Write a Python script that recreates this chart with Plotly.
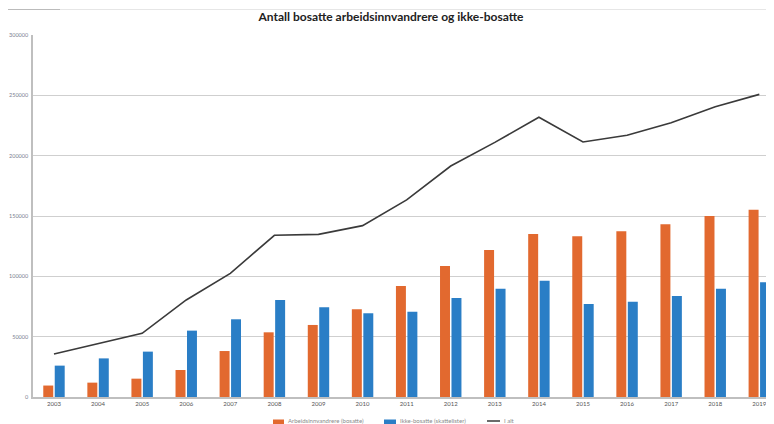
import plotly.graph_objects as go

years = ["2003", "2004", "2005", "2006", "2007", "2008", "2009", "2010", "2011",
         "2012", "2013", "2014", "2015", "2016", "2017", "2018", "2019"]
bosatte = [9500, 11900, 15200, 22400, 38100, 53600, 59700, 72700, 92000,
           108600, 121800, 135100, 133200, 137300, 143100, 150000, 155200]
ikke_bosatte = [26000, 32000, 37600, 55000, 64400, 80400, 74300, 69400, 70700,
                82000, 89800, 96400, 77100, 79000, 83700, 89800, 95000]
i_alt = [35600, 44500, 52800, 80400, 102500, 134000, 134800, 142000, 163300,
         191400, 211000, 231800, 211300, 216900, 227300, 240600, 250800]
series_names = ["Arbeidsinnvandrere (bosatte)", "Ikke-bosatte (skattelister)", "I alt"]
title_text = "Antall bosatte arbeidsinnvandrere og ikke-bosatte"
y_ticks = [0, 50000, 100000, 150000, 200000, 250000, 300000]

C_OR = "#E2692F"
C_BL = "#2A7EC6"
C_LN = "#3A3A3A"

fig = go.Figure()
fig.add_trace(go.Bar(x=years, y=bosatte, name=series_names[0],
                     marker=dict(color=C_OR, line=dict(width=0))))
fig.add_trace(go.Bar(x=years, y=ikke_bosatte, name=series_names[1],
                     marker=dict(color=C_BL, line=dict(width=0))))
fig.add_trace(go.Scatter(x=years, y=i_alt, name=series_names[2], mode="lines",
                         line=dict(color=C_LN, width=1.6)))

# page body has an 8px margin: work in page pixels, convert to figure pixels
OFF = 8
W, H = 774 - OFF, 424 - OFF
L, R, T, B = 33 - OFF, 0, 35 - OFF, 27
PW, PH = W - L - R, H - T - B


def px(x):  # page x -> paper
    return (x - OFF - L) / PW


def py(y):  # page y -> paper
    return (H - B - (y - OFF)) / PH


fig.update_layout(
    width=W, height=H,
    margin=dict(l=L, r=R, t=T, b=B, autoexpand=False),
    paper_bgcolor="white", plot_bgcolor="white",
    barmode="group", bargap=0.48, bargroupgap=0.13,
    font=dict(family="Lato, Liberation Sans, sans-serif", color="#444444"),
    title=dict(text="<b>" + title_text + "</b>", x=0.5, xanchor="center",
               y=1 - (17 - OFF) / H, yanchor="middle", font=dict(size=12, color="#222222")),
    xaxis=dict(type="category", range=[-0.476, 16.333], showgrid=False,
               showline=True, linecolor="#BFBFBF", linewidth=1.5, ticks="",
               automargin=False, tickfont=dict(size=6, color="#555555")),
    yaxis=dict(range=[0, 300000], tickvals=y_ticks, tickformat="d", showgrid=True,
               gridcolor="#CFCFCF", gridwidth=1.3, zeroline=False,
               showline=True, linecolor="#BFBFBF", linewidth=1.5, automargin=False,
               tickfont=dict(size=5.5, color="#7A8090"), ticks="", ticklabelstandoff=2),
    showlegend=False,
)

# top decorative rule
fig.add_shape(type="line", xref="paper", yref="paper", x0=px(OFF), x1=px(774),
              y0=py(9.5), y1=py(9.5), line=dict(color="#E6E6E6", width=1))
fig.add_shape(type="line", xref="paper", yref="paper", x0=px(OFF), x1=px(60),
              y0=py(9.5), y1=py(9.5), line=dict(color="#BBBBBB", width=1))

# custom legend at bottom
legend_items = [
    (series_names[0], "bar", C_OR, 273, 284),
    (series_names[1], "bar", C_BL, 384, 396),
    (series_names[2], "line", C_LN, 487, 500),
]
for name, kind, col, x0, x1 in legend_items:
    if kind == "bar":
        fig.add_shape(type="rect", xref="paper", yref="paper",
                      x0=px(x0), x1=px(x1), y0=py(424), y1=py(419.5),
                      fillcolor=col, line=dict(width=0))
    else:
        fig.add_shape(type="line", xref="paper", yref="paper",
                      x0=px(x0), x1=px(x1), y0=py(421), y1=py(421),
                      line=dict(color=col, width=1.5))
    fig.add_annotation(text=name, xref="paper", yref="paper", x=px(x1 + 2),
                       y=py(420), xanchor="left", yanchor="middle", showarrow=False,
                       font=dict(size=6, color="#8A8A8A"))

fig.write_html("out.html")
